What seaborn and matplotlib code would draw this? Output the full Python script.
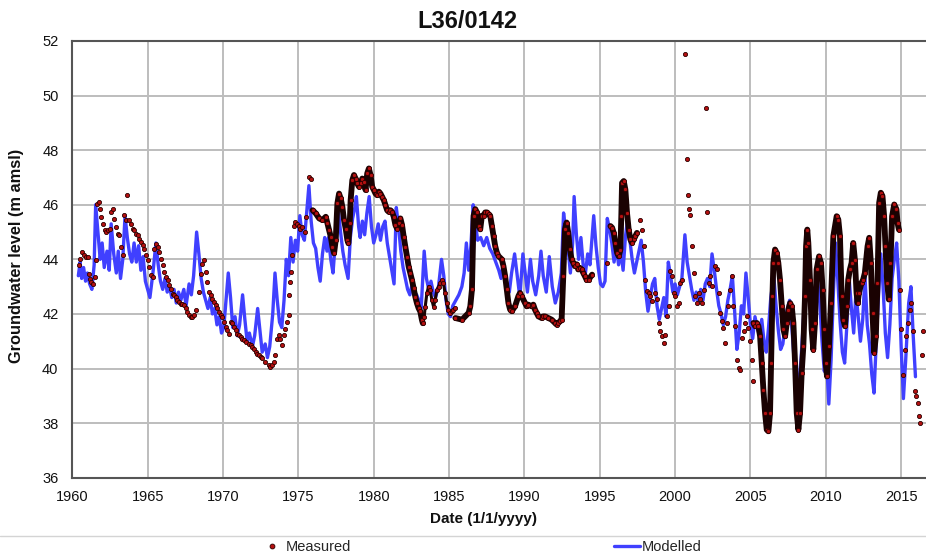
import matplotlib
matplotlib.use("Agg")
import matplotlib.pyplot as plt
from matplotlib.lines import Line2D
import numpy as np
import pandas as pd
import seaborn as sns

# ---------------------------------------------------------------- data
station = "L36/0142"

# Modelled groundwater level (m amsl)
model_year = [
    1960.40, 1960.52, 1960.62, 1960.75, 1960.88, 1961.00, 1961.15, 1961.30, 1961.45, 1961.55,
    1961.70, 1961.85, 1961.98, 1962.12, 1962.30, 1962.45, 1962.58, 1962.75, 1962.92, 1963.05,
    1963.20, 1963.35, 1963.50, 1963.65, 1963.80, 1963.95, 1964.10, 1964.25, 1964.40, 1964.55,
    1964.70, 1964.85, 1965.00, 1965.15, 1965.35, 1965.55, 1965.70, 1965.85, 1966.00, 1966.15,
    1966.30, 1966.45, 1966.60, 1966.75, 1966.90, 1967.05, 1967.20, 1967.40, 1967.55, 1967.75,
    1967.90, 1968.05, 1968.25, 1968.40, 1968.55, 1968.70, 1968.85, 1969.00, 1969.15, 1969.30,
    1969.45, 1969.60, 1969.75, 1969.90, 1970.05, 1970.20, 1970.35, 1970.50, 1970.65, 1970.80,
    1970.95, 1971.10, 1971.30, 1971.45, 1971.60, 1971.75, 1971.95, 1972.10, 1972.30, 1972.45,
    1972.60, 1972.80, 1972.95, 1973.10, 1973.30, 1973.45, 1973.60, 1973.75, 1973.90, 1974.05,
    1974.20, 1974.35, 1974.50, 1974.65, 1974.80, 1974.95, 1975.10, 1975.25, 1975.40, 1975.55,
    1975.70, 1975.85, 1976.00, 1976.15, 1976.30, 1976.45, 1976.60, 1976.75, 1976.90, 1977.00,
    1977.15, 1977.30, 1977.45, 1977.62, 1977.80, 1977.95, 1978.10, 1978.30, 1978.45, 1978.60,
    1978.75, 1978.85, 1979.00, 1979.10, 1979.25, 1979.40, 1979.55, 1979.70, 1979.85, 1980.00,
    1980.15, 1980.30, 1980.45, 1980.60, 1980.75, 1980.90, 1981.05, 1981.20, 1981.35, 1981.50,
    1981.65, 1981.80, 1981.95, 1982.10, 1982.25, 1982.40, 1982.55, 1982.70, 1982.85, 1983.00,
    1983.15, 1983.35, 1983.50, 1983.65, 1983.80, 1983.95, 1984.10, 1984.30, 1984.50, 1984.65,
    1984.80, 1984.95, 1985.10, 1985.25, 1985.45, 1985.65, 1985.85, 1986.00, 1986.15, 1986.30,
    1986.45, 1986.60, 1986.75, 1986.90, 1987.10, 1987.30, 1987.50, 1987.70, 1987.90, 1988.10,
    1988.30, 1988.45, 1988.60, 1988.80, 1989.00, 1989.15, 1989.35, 1989.55, 1989.70, 1989.90,
    1990.05, 1990.20, 1990.40, 1990.55, 1990.75, 1990.95, 1991.10, 1991.25, 1991.45, 1991.65,
    1991.85, 1992.05, 1992.25, 1992.45, 1992.60, 1992.75, 1992.90, 1993.05, 1993.20, 1993.30,
    1993.45, 1993.60, 1993.75, 1993.90, 1994.05, 1994.20, 1994.35, 1994.50, 1994.60, 1994.75,
    1994.90, 1995.05, 1995.20, 1995.35, 1995.50, 1995.65, 1995.80, 1995.95, 1996.10, 1996.25,
    1996.40, 1996.55, 1996.70, 1996.85, 1997.00, 1997.15, 1997.30, 1997.45, 1997.60, 1997.75,
    1997.90, 1998.05, 1998.20, 1998.35, 1998.50, 1998.65, 1998.80, 1998.95, 1999.10, 1999.25,
    1999.40, 1999.55, 1999.70, 1999.85, 2000.00, 2000.15, 2000.30, 2000.45, 2000.65, 2000.80,
    2000.95, 2001.10, 2001.25, 2001.40, 2001.55, 2001.70, 2001.85, 2002.00, 2002.15, 2002.30,
    2002.45, 2002.60, 2002.75, 2002.90, 2003.05, 2003.20, 2003.35, 2003.50, 2003.65, 2003.80,
    2003.95, 2004.10, 2004.25, 2004.40, 2004.55, 2004.70, 2004.85, 2005.00, 2005.15, 2005.30,
    2005.45, 2005.60, 2005.75, 2005.90, 2006.05, 2006.20, 2006.35, 2006.55, 2006.70, 2006.85,
    2007.00, 2007.15, 2007.30, 2007.45, 2007.60, 2007.75, 2007.90, 2008.05, 2008.20, 2008.35,
    2008.50, 2008.65, 2008.80, 2008.95, 2009.10, 2009.25, 2009.45, 2009.60, 2009.75, 2009.90,
    2010.05, 2010.20, 2010.35, 2010.50, 2010.65, 2010.80, 2010.95, 2011.10, 2011.25, 2011.40,
    2011.55, 2011.70, 2011.85, 2012.00, 2012.15, 2012.30, 2012.45, 2012.60, 2012.75, 2012.90,
    2013.05, 2013.20, 2013.35, 2013.50, 2013.65, 2013.80, 2013.95, 2014.10, 2014.25, 2014.40,
    2014.55, 2014.70, 2014.85, 2015.00, 2015.15, 2015.30, 2015.50, 2015.65, 2015.80, 2015.95,
]
model_level = [
    43.4, 43.9, 43.3, 43.7, 43.2, 43.5, 43.1, 42.9, 43.8, 46.0,
    45.0, 44.0, 44.6, 43.7, 44.3, 43.6, 45.3, 44.2, 43.5, 44.3,
    43.3, 44.0, 45.6, 44.8, 44.2, 43.9, 44.6, 43.9, 44.5, 43.6,
    44.1, 43.2, 42.9, 42.6, 43.5, 44.6, 43.8, 43.2, 42.9, 43.3,
    42.8, 43.0, 42.6, 42.9, 42.4, 42.8, 42.5, 42.9, 42.3, 43.1,
    42.7, 43.4, 45.0, 44.2, 43.3, 42.8, 42.5, 42.2, 42.6, 42.0,
    42.2, 41.6, 41.9, 41.3, 41.5, 42.5, 43.5, 42.6, 41.5, 41.9,
    41.2, 41.6, 42.7, 41.8, 41.0, 41.3, 40.8, 41.2, 42.2, 41.4,
    40.6, 40.9, 40.4, 40.8, 42.0, 43.5, 42.5, 41.7, 41.5, 42.5,
    44.0, 43.4, 44.8, 43.9, 44.7, 44.3, 45.6, 44.9, 44.7, 45.7,
    46.7, 45.4, 44.6, 44.4, 43.7, 43.2, 44.2, 44.8, 44.3, 44.8,
    44.0, 43.5, 44.6, 46.0, 45.0, 44.3, 43.8, 43.3, 44.8, 45.5,
    45.9, 46.3, 45.2, 44.8, 45.4, 44.9, 45.7, 46.3, 45.2, 44.6,
    44.9, 45.3, 44.7, 45.2, 45.4, 44.6, 44.1, 43.6, 43.1, 45.9,
    45.2, 44.3, 43.7, 43.3, 42.9, 42.7, 43.1, 42.8, 42.7, 42.5,
    42.2, 44.3, 43.3, 42.9, 43.2, 42.8, 42.6, 43.0, 44.0, 43.4,
    42.5, 42.0, 41.9, 42.3, 42.5, 42.7, 43.0, 43.5, 44.6, 43.6,
    44.5, 46.0, 45.3, 44.7, 44.8, 44.5, 44.8, 44.4, 44.2, 43.9,
    43.6, 43.3, 43.9, 43.2, 42.8, 43.5, 44.2, 43.3, 42.6, 44.2,
    43.5, 42.8, 44.0, 43.2, 42.7, 43.4, 44.3, 43.4, 42.8, 44.1,
    43.0, 42.4, 42.8, 43.5, 45.7, 45.0, 44.4, 43.5, 44.6, 46.3,
    44.9, 44.0, 44.8, 43.8, 43.5, 44.2, 43.8, 44.9, 45.6, 44.5,
    43.7, 43.1, 43.0, 43.2, 45.5, 45.1, 44.6, 43.9, 44.5, 43.8,
    44.3, 43.6, 44.8, 45.5, 44.7, 44.0, 43.5, 43.9, 44.3, 44.7,
    43.9, 42.8, 42.1, 42.6, 43.1, 43.3, 42.3, 41.8, 42.2, 42.6,
    41.9, 43.9, 43.4, 42.8, 43.1, 42.7, 43.0, 43.3, 44.9, 43.9,
    43.4, 42.9, 42.5, 42.8, 42.4, 42.9, 42.5, 43.1, 43.3, 43.0,
    44.2, 43.6, 42.9, 42.3, 42.0, 41.6, 41.9, 42.5, 42.9, 43.4,
    42.1, 40.7, 41.3, 42.3, 42.0, 43.5, 42.6, 41.6, 41.1, 41.9,
    41.5, 41.2, 41.8, 41.0, 40.6, 41.5, 42.6, 43.4, 42.3, 41.4,
    40.7, 40.9, 41.6, 42.2, 42.5, 41.5, 40.3, 39.8, 39.4, 40.3,
    41.6, 43.6, 44.2, 42.7, 41.3, 41.6, 43.3, 42.4, 41.0, 39.9,
    40.3, 38.7, 40.3, 42.7, 44.6, 43.2, 41.7, 40.6, 40.2, 41.6,
    43.3, 42.2, 41.3, 42.8, 41.9, 41.0, 41.8, 43.4, 41.6, 40.9,
    39.8, 39.1, 41.0, 42.7, 44.2, 43.0, 41.3, 40.4, 41.6, 43.3,
    44.0, 44.6, 43.2, 40.8, 38.9, 40.3, 42.4, 43.0, 41.2, 39.7,
]

# Manual dip readings (m amsl)
dip_year = [
    1960.44, 1960.53, 1960.66, 1960.75, 1960.88, 1961.04, 1961.10, 1961.19, 1961.26, 1961.37,
    1961.48, 1961.54, 1961.65, 1961.76, 1961.81, 1961.92, 1962.03, 1962.14, 1962.25, 1962.36,
    1962.47, 1962.58, 1962.69, 1962.80, 1962.91, 1963.02, 1963.13, 1963.24, 1963.35, 1963.46,
    1963.57, 1963.63, 1963.79, 1963.90, 1964.01, 1964.12, 1964.23, 1964.34, 1964.45, 1964.56,
    1964.67, 1964.78, 1964.89, 1965.00, 1965.11, 1965.22, 1965.33, 1965.44, 1965.55, 1965.66,
    1965.77, 1965.88, 1965.99, 1966.10, 1966.21, 1966.32, 1966.43, 1966.54, 1966.65, 1966.76,
    1966.87, 1966.98, 1967.09, 1967.20, 1967.31, 1967.42, 1967.53, 1967.64, 1967.75, 1967.86,
    1967.97, 1968.08, 1968.19, 1968.41, 1968.52, 1968.63, 1968.74, 1968.85, 1968.96, 1969.07,
    1969.19, 1969.30, 1969.41, 1969.52, 1969.63, 1969.74, 1969.85, 1969.96, 1970.07, 1970.18,
    1970.29, 1970.40, 1970.51, 1970.62, 1970.73, 1970.84, 1970.95, 1971.06, 1971.17, 1971.28,
    1971.39, 1971.50, 1971.72, 1971.83, 1971.94, 1972.05, 1972.16, 1972.27, 1972.38, 1972.49,
    1972.60, 1972.82, 1973.04, 1973.15, 1973.26, 1973.37, 1973.48, 1973.59, 1973.70, 1973.81,
    1973.92, 1974.03, 1974.14, 1974.25, 1974.36, 1974.41, 1974.47, 1974.54, 1974.58, 1974.69,
    1974.80, 1974.91, 1975.02, 1975.13, 1975.24, 1975.46, 1975.51, 1975.68, 1975.84,
    1995.49, 1997.69, 1997.80, 1997.91,
    1998.02, 1998.13, 1998.25, 1998.36, 1998.47, 1998.69, 1998.80, 1998.91, 1999.02, 1999.13,
    1999.24, 1999.35, 1999.46, 1999.57, 1999.68, 1999.79, 1999.90, 2000.01, 2000.12, 2000.23,
    2000.34, 2000.45, 2000.67, 2000.78, 2000.85, 2000.94, 2001.00, 2001.11, 2001.23, 2001.34,
    2001.45, 2001.56, 2001.67, 2001.78, 2001.89, 2002.04, 2002.11, 2002.22, 2002.33, 2002.44,
    2002.66, 2002.77, 2002.88, 2002.99, 2003.10, 2003.21, 2003.32, 2003.43, 2003.54, 2003.65,
    2003.76, 2003.87, 2003.98, 2004.09, 2004.21, 2004.32, 2004.43, 2004.54, 2004.65, 2004.76,
    2004.87, 2004.98, 2005.09, 2005.15,
    2014.93, 2015.02, 2015.13, 2015.24, 2015.35, 2015.46, 2015.57, 2015.68, 2015.79, 2015.90,
    2016.01, 2016.13, 2016.17, 2016.24, 2016.41, 2016.46,
]
dip_level = [
    43.78, 44.02, 44.27, 44.15, 44.09, 44.09, 43.48, 43.29, 43.17, 43.11,
    43.35, 43.96, 46.04, 46.10, 45.85, 45.55, 45.30, 45.06, 45.00, 45.06,
    45.12, 45.73, 45.85, 45.49, 45.18, 44.94, 44.88, 44.45, 44.15, 45.61,
    45.43, 46.34, 45.43, 45.30, 45.12, 45.06, 44.94, 44.88, 44.76, 44.63,
    44.51, 44.39, 44.15, 43.96, 43.72, 43.41, 43.35, 44.39, 44.57, 44.45,
    44.27, 44.02, 43.78, 43.54, 43.35, 43.23, 43.05, 42.93, 42.74, 42.68,
    42.62, 42.50, 42.44, 42.38, 42.38, 42.32, 42.20, 42.07, 41.95, 41.89,
    41.89, 41.95, 42.13, 42.80, 43.48, 43.84, 43.96, 43.54, 43.17, 42.80,
    42.68, 42.56, 42.44, 42.32, 42.20, 42.07, 41.95, 41.89, 41.71, 41.52,
    41.40, 41.28, 41.71, 41.65, 41.52, 41.40, 41.28, 41.22, 41.16, 41.10,
    41.04, 40.98, 40.91, 40.85, 40.79, 40.73, 40.61, 40.55, 40.49, 40.43,
    40.37, 40.24, 40.12, 40.06, 40.12, 40.24, 40.49, 41.10, 41.22, 41.10,
    40.85, 41.22, 41.46, 41.71, 41.95, 42.68, 43.17, 43.54, 44.15, 45.24,
    45.37, 45.30, 45.24, 45.12, 45.18, 44.99, 45.56, 47.00, 46.93,
    43.87, 45.46, 45.09, 44.48,
    43.26, 42.83, 42.77, 42.65, 42.46, 42.77, 42.53, 41.67, 41.36, 41.18,
    40.94, 41.24, 41.91, 42.28, 43.56, 43.38, 42.77, 42.65, 42.28, 42.40,
    43.14, 43.26, 51.54, 47.66, 46.35, 45.83, 45.64, 44.48, 43.50, 42.65,
    42.40, 42.77, 42.53, 42.40, 42.89, 49.55, 45.73, 43.14, 43.38, 43.01,
    43.75, 43.63, 42.77, 42.04, 41.73, 41.49, 40.94, 41.67, 42.28, 42.89,
    43.38, 42.28, 41.55, 40.33, 40.02, 39.96, 41.12, 41.36, 41.67, 41.91,
    41.49, 41.00, 40.33, 39.53,
    42.89, 41.43, 39.78, 40.69, 41.18, 41.67, 42.16, 42.40, 41.36, 39.16,
    38.98, 38.74, 38.25, 38.00, 40.51, 41.36,
]

# Continuous logger records (m amsl), one list per deployment
logger_a_year = [
    1975.95, 1976.16, 1976.38, 1976.60, 1976.82, 1976.93, 1977.04, 1977.15, 1977.26, 1977.37,
    1977.48, 1977.59, 1977.70, 1977.81, 1977.92, 1978.03, 1978.14, 1978.25, 1978.32, 1978.41,
    1978.47, 1978.58, 1978.69, 1978.80, 1978.91, 1979.02, 1979.13, 1979.24, 1979.35, 1979.46,
    1979.57, 1979.68, 1979.79, 1979.90, 1980.01, 1980.12, 1980.23, 1980.34, 1980.45, 1980.56,
    1980.67, 1980.78, 1980.89, 1981.00, 1981.11, 1981.22, 1981.33, 1981.44, 1981.55, 1981.66,
    1981.77, 1981.88, 1981.99, 1982.10, 1982.21, 1982.32, 1982.43, 1982.54, 1982.65, 1982.76,
    1982.87, 1982.98, 1983.09, 1983.20, 1983.26,
]
logger_a_level = [
    45.80, 45.68, 45.50, 45.44, 45.56, 45.32, 45.07, 44.83, 44.46, 44.22,
    44.71, 46.05, 46.41, 46.23, 45.93, 45.44, 45.13, 44.71, 44.59, 45.32,
    46.17, 46.90, 47.09, 46.96, 46.78, 46.66, 46.78, 46.96, 46.84, 46.54,
    47.15, 47.33, 47.09, 46.66, 46.54, 46.41, 46.35, 46.48, 46.41, 46.29,
    46.17, 45.99, 45.80, 45.74, 45.80, 45.74, 45.56, 45.26, 45.13, 45.32,
    45.50, 45.26, 44.83, 44.46, 44.10, 43.73, 43.49, 43.24, 42.94, 42.63,
    42.39, 42.21, 42.09, 41.78, 41.66,
]
logger_a2_year = [
    1983.35, 1983.42, 1983.53, 1983.64, 1983.75, 1983.86, 1983.97, 1984.08, 1984.19, 1984.30,
    1984.41, 1984.52, 1984.63, 1984.74, 1984.85, 1984.96, 1985.07, 1985.18, 1985.29, 1985.40,
]
logger_a2_level = [
    41.90, 42.27, 42.76, 43.00, 42.88, 42.51, 42.27, 42.51, 42.88, 43.00,
    43.12, 43.24, 43.12, 42.76, 42.39, 42.15, 42.02, 42.09, 42.15, 42.21,
]
logger_b_year = [
    1985.42, 1985.86, 1986.30, 1986.41, 1986.52, 1986.63, 1986.74, 1986.85, 1986.96, 1987.07,
    1987.18, 1987.29, 1987.40, 1987.51, 1987.62, 1987.73, 1987.84, 1987.95, 1988.06, 1988.17,
    1988.28, 1988.50, 1988.61, 1988.72, 1988.83, 1988.94, 1989.05, 1989.16, 1989.38, 1989.60,
    1989.71, 1989.82, 1990.04, 1990.15, 1990.26, 1990.48, 1990.59, 1990.70, 1990.81, 1990.93,
    1991.15, 1991.26, 1991.37, 1991.59, 1991.81, 1992.03, 1992.14, 1992.25, 1992.36, 1992.47,
    1992.58, 1992.69, 1992.80, 1992.91, 1993.02, 1993.13, 1993.24, 1993.35, 1993.46, 1993.57,
    1993.68, 1993.79, 1993.90, 1994.01, 1994.12, 1994.27, 1994.49,
]
logger_b_level = [
    41.85, 41.79, 42.04, 42.28, 42.90, 45.60, 45.84, 45.72, 45.23, 45.10,
    45.60, 45.60, 45.72, 45.72, 45.66, 45.60, 45.23, 44.86, 44.49, 44.25,
    44.12, 44.00, 43.75, 43.39, 42.90, 42.40, 42.16, 42.10, 42.28, 42.65,
    42.77, 42.65, 42.40, 42.28, 42.34, 42.28, 42.34, 42.16, 42.04, 41.91,
    41.85, 41.91, 41.91, 41.85, 41.79, 41.67, 41.61, 41.67, 41.73, 41.79,
    43.39, 45.10, 45.35, 44.98, 44.37, 44.00, 43.88, 43.75, 43.82, 43.63,
    43.69, 43.63, 43.51, 43.39, 43.26, 43.26, 43.44,
]
logger_c_year = [
    1995.71, 1995.82, 1995.93, 1996.04, 1996.15, 1996.26, 1996.37, 1996.43, 1996.48, 1996.59,
    1996.70, 1996.81, 1996.92, 1997.03, 1997.14, 1997.25, 1997.36, 1997.47,
]
logger_c_level = [
    45.22, 45.16, 44.97, 44.60, 44.24, 44.11, 44.36, 45.58, 46.80, 46.87,
    46.56, 45.70, 45.09, 44.73, 44.60, 44.73, 44.85, 44.97,
]
logger_d_year = [
    2005.20, 2005.31, 2005.42, 2005.53, 2005.64, 2005.75, 2005.86, 2005.97, 2006.08, 2006.19,
    2006.30, 2006.37, 2006.46, 2006.52, 2006.63, 2006.74, 2006.85, 2006.96, 2007.08, 2007.19,
    2007.30, 2007.41, 2007.52, 2007.63, 2007.74, 2007.85, 2007.96, 2008.07, 2008.18, 2008.29,
    2008.40, 2008.51, 2008.62, 2008.69, 2008.77, 2008.84, 2008.95, 2009.06, 2009.17, 2009.28,
    2009.39, 2009.55, 2009.68, 2009.79, 2009.90, 2009.99, 2010.08, 2010.21, 2010.34, 2010.50,
    2010.72, 2010.83, 2010.94, 2011.05, 2011.16, 2011.27, 2011.38, 2011.49, 2011.60, 2011.71,
    2011.82, 2011.93, 2012.04, 2012.11, 2012.20, 2012.37, 2012.48, 2012.59, 2012.77, 2012.88,
    2012.99, 2013.10, 2013.21, 2013.32, 2013.43, 2013.54, 2013.65, 2013.76, 2013.87, 2013.96,
    2014.07, 2014.18, 2014.29, 2014.40, 2014.54, 2014.69, 2014.76, 2014.85,
]
logger_d_level = [
    41.67, 41.55, 41.67, 41.55, 41.18, 40.20, 39.22, 38.37, 37.76, 37.70,
    38.37, 40.20, 42.65, 43.87, 44.36, 44.24, 43.87, 43.26, 42.28, 41.43,
    41.18, 41.67, 42.16, 42.40, 42.28, 41.67, 40.20, 38.37, 37.76, 38.37,
    39.84, 40.81, 42.65, 44.48, 45.09, 44.60, 43.26, 41.43, 40.69, 41.67,
    43.63, 44.11, 43.87, 42.89, 41.43, 40.20, 39.71, 40.81, 42.40, 44.85,
    45.58, 45.46, 44.85, 42.65, 41.79, 41.55, 42.28, 43.26, 43.63, 43.87,
    44.60, 43.99, 42.77, 42.40, 42.77, 43.14, 43.26, 43.50, 44.48, 44.79,
    43.87, 42.04, 40.57, 41.18, 43.14, 46.07, 46.44, 46.32, 45.58, 44.48,
    43.14, 42.53, 43.87, 45.58, 46.01, 45.83, 45.34, 45.09,
]

x_ticks = [1960, 1965, 1970, 1975, 1980, 1985, 1990, 1995, 2000, 2005, 2010, 2015]
y_ticks = [36, 38, 40, 42, 44, 46, 48, 50, 52]

# ---------------------------------------------------------------- frames
model_df = pd.DataFrame({"year": model_year, "level": model_level})

logger_parts = [
    ("A", logger_a_year, logger_a_level, 4.2),
    ("A2", logger_a2_year, logger_a2_level, 2.2),
    ("B", logger_b_year, logger_b_level, 4.2),
    ("C", logger_c_year, logger_c_level, 4.2),
    ("D", logger_d_year, logger_d_level, 4.2),
]
logger_df = pd.concat(
    [pd.DataFrame({"year": y, "level": v, "record": k}) for k, y, v, _ in logger_parts],
    ignore_index=True,
)
measured_df = pd.concat(
    [pd.DataFrame({"year": dip_year, "level": dip_level}), logger_df[["year", "level"]]],
    ignore_index=True,
)

# ---------------------------------------------------------------- style
sns.set_theme(style="white")
plt.rcParams["font.family"] = ["Liberation Sans", "DejaVu Sans"]

W, H = 926, 558
fig = plt.figure(figsize=(W / 100, H / 100), dpi=100)
fig.patch.set_facecolor("white")

ax_left, ax_top, ax_bottom = 72.3, 41.0, 477.7
ax = fig.add_axes([ax_left / W, 1 - ax_bottom / H, 1 - ax_left / W, (ax_bottom - ax_top) / H])
ax.set_facecolor("white")

blue = "#4040ff"
red_fill = "#b51010"
red_edge = "#2a0000"

# modelled series
sns.lineplot(data=model_df, x="year", y="level", ax=ax, color=blue, lw=2.4,
             estimator=None, sort=False, zorder=3)

# logger records appear as a continuous dark band of overlapping readings
for key, _, _, width in logger_parts:
    sns.lineplot(data=logger_df[logger_df["record"] == key], x="year", y="level", ax=ax,
                 color="#1a0202", lw=width, estimator=None, sort=False, zorder=4)

# all measured readings
sns.scatterplot(data=measured_df, x="year", y="level", ax=ax, marker="o", s=9,
                color=red_fill, edgecolor=red_edge, linewidth=0.6, zorder=5)

# ---------------------------------------------------------------- axes
px_per_year = 15.07
ax.set_xlim(1960, 1960 + (W - ax_left) / px_per_year)
ax.set_ylim(36, 52)
ax.set_xticks(x_ticks)
ax.set_yticks(y_ticks)
ax.grid(True, color="#bdbdbd", lw=1.4)
ax.set_axisbelow(True)
ax.tick_params(axis="both", length=0, labelsize=10.5, colors="#111111")
ax.tick_params(axis="x", pad=9)
ax.tick_params(axis="y", pad=10)

for side in ("left", "top", "bottom"):
    ax.spines[side].set_visible(True)
    ax.spines[side].set_color("#555555")
    ax.spines[side].set_linewidth(1.5)
ax.spines["right"].set_visible(False)

ax.set_xlabel("Date (1/1/yyyy)", fontsize=11, fontweight="bold", color="#111111")
ax.xaxis.set_label_coords((484 - ax_left) / (W - ax_left), -(512 - ax_bottom) / (ax_bottom - ax_top))
ax.set_ylabel("Groundwater level (m amsl)", fontsize=11.8, fontweight="bold", color="#111111")
ax.yaxis.set_label_coords(-(ax_left - 24) / (W - ax_left), (ax_bottom - 256) / (ax_bottom - ax_top))

fig.suptitle(station, x=467 / W, y=1 - 21 / H, va="center", fontsize=17,
             fontweight="bold", color="#111111")

# separator above the legend
fig.add_artist(Line2D([0, 1], [1 - 536 / H, 1 - 536 / H], transform=fig.transFigure,
                      color="#d4d4d4", lw=1))

handles = [
    Line2D([], [], ls="none", marker="o", ms=3.5, mfc=red_fill, mec=red_edge, mew=0.6),
    Line2D([], [], color=blue, lw=2.4),
]
fig.legend(handles, ["Measured", "Modelled"], loc="center", bbox_to_anchor=(480 / W, 1 - 547 / H),
           ncol=2, frameon=False, fontsize=10.5, handlelength=1.8, handletextpad=0.1,
           columnspacing=18, borderpad=0)

fig.savefig("out.png", dpi=100, facecolor="white")
